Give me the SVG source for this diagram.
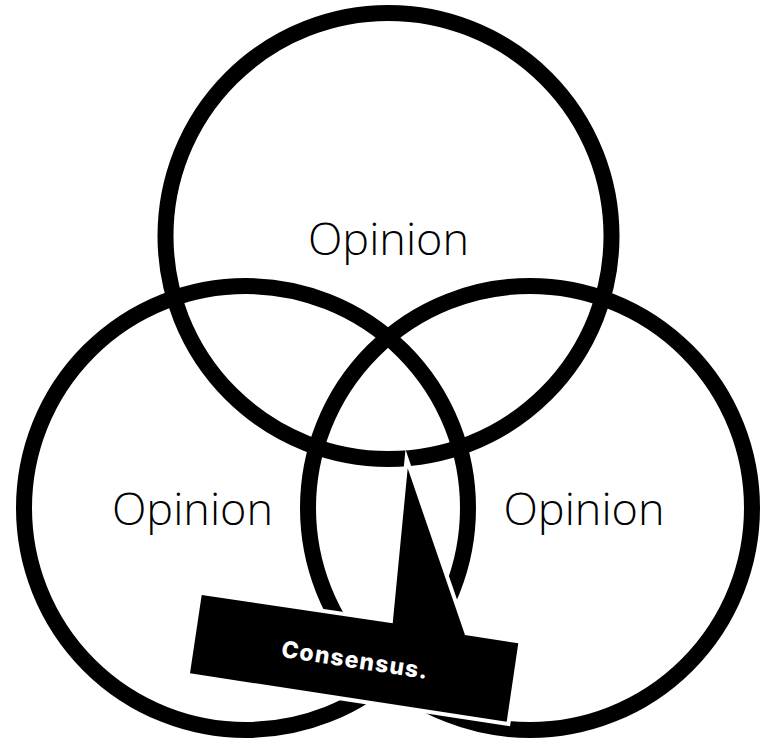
<svg xmlns="http://www.w3.org/2000/svg" width="765" height="741" viewBox="0 0 765 741">
<style>
.ring{fill:none;stroke:#000;stroke-width:16}
.lbl{font-family:"Open Sans","Liberation Sans",sans-serif;font-weight:300;font-size:45px;fill:#000;text-anchor:middle}
.callout{fill:#000;stroke:#fff;stroke-width:8;stroke-linejoin:miter;stroke-miterlimit:12;paint-order:stroke}
.ctext{font-family:Inter,"Liberation Sans",sans-serif;font-weight:800;font-size:23px;letter-spacing:1.2px;fill:#fff;text-anchor:middle}
</style>
<rect width="765" height="741" fill="#fff"/>
<g id="opinion-top">
<circle class="ring" cx="388.5" cy="236" r="223"/>
<text class="lbl" x="388.5" y="255">Opinion</text>
</g>
<g id="opinion-left">
<circle class="ring" cx="246" cy="508" r="222"/>
<text class="lbl" x="192.5" y="525">Opinion</text>
</g>
<g id="opinion-right">
<circle class="ring" cx="530" cy="508" r="222"/>
<text class="lbl" x="584" y="525">Opinion</text>
</g>
<g id="consensus">
<polygon class="callout" points="201.7,595 392.7,623.3 407.7,468.3 465,635 518.3,643.3 506.7,721.7 190,673.3"/>
<text class="ctext" transform="translate(354,668) rotate(8.7)" x="0" y="0">Consensus.</text>
</g>
</svg>
